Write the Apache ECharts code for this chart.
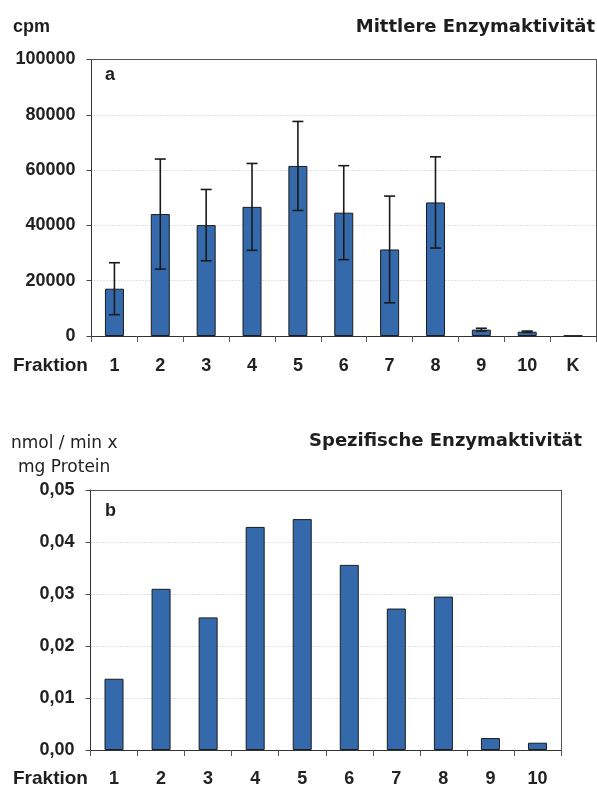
<!DOCTYPE html>
<html><head><meta charset="utf-8">
<script src="https://cdn.jsdelivr.net/npm/echarts@6/dist/echarts.min.js"></script>
<style>html,body{margin:0;padding:0;background:#fff}#c{width:597px;height:790px}</style>
</head><body><div id="c"></div>
<script>
// ---- data ----
const categoriesA = ['1','2','3','4','5','6','7','8','9','10','K'];
const meanActivity = [17100, 44100, 40100, 46700, 61500, 44600, 31300, 48300, 2300, 1550, 150];
const meanActivityErr = [9400, 19900, 12900, 15700, 16100, 17000, 19300, 16500, 500, 250, 0];
const categoriesB = ['1','2','3','4','5','6','7','8','9','10'];
const specActivity = [0.0137, 0.0310, 0.0255, 0.0429, 0.0444, 0.0356, 0.0272, 0.0295, 0.0023, 0.0014];
const yAxisA = {min: 0, max: 100000, interval: 20000};
const yAxisB = {min: 0, max: 0.05, interval: 0.01};

const LAB = '"Liberation Sans", Arial, sans-serif';
const TIT = '"DejaVu Sans", sans-serif';
const barColor = '#346aac';

const chart = echarts.init(document.getElementById('c'), null, {renderer: 'canvas'});

function yAxisCommon(gi, cfg, fmt) {
  return {
    type: 'value', gridIndex: gi, min: cfg.min, max: cfg.max, interval: cfg.interval,
    axisLine: {show: true, onZero: false, lineStyle: {color: '#333', width: 1}},
    axisTick: {show: true, length: 5, lineStyle: {color: '#444'}},
    axisLabel: {margin: 16, fontFamily: 'Liberation Sans', fontWeight: 'bold', fontSize: 18, color: '#222', formatter: fmt},
    splitLine: {show: true, lineStyle: {color: '#c4c4c4', type: [1, 2], width: 1}}
  };
}
function frameY(gi, cfg) {
  return {type: 'value', gridIndex: gi, position: 'right', min: cfg.min, max: cfg.max, interval: cfg.interval,
    axisLine: {show: true, onZero: false, lineStyle: {color: '#555', width: 1}}, axisTick: {show: false},
    axisLabel: {show: false}, splitLine: {show: false}};
}
function frameX(gi, cats) {
  return {type: 'category', gridIndex: gi, position: 'top', data: cats,
    axisLine: {show: true, onZero: false, lineStyle: {color: '#555', width: 1}}, axisTick: {show: false},
    axisLabel: {show: false}, splitLine: {show: false}};
}
function xAxisCommon(gi, cats, margin) {
  return {
    type: 'category', gridIndex: gi, data: cats,
    axisLine: {show: true, onZero: false, lineStyle: {color: '#333', width: 1}},
    axisTick: {show: true, length: 6, lineStyle: {color: '#555'}},
    axisLabel: {interval: 0, margin: margin, fontFamily: 'Liberation Sans', fontWeight: 'bold', fontSize: 18, color: '#222'}
  };
}

const errData = categoriesA.map((c, i) => [i, meanActivity[i] - meanActivityErr[i], meanActivity[i] + meanActivityErr[i]])
  .filter((d, i) => meanActivityErr[i] > 0);

function txt(text, x, y, font, align) {
  return {type: 'text', x: x, y: y, z: 10, style: {text: text, font: font, fill: '#1e1e1e', textAlign: align || 'left', textVerticalAlign: 'middle'}};
}

chart.setOption({
  animation: false,
  grid: [
    {left: 91.5, top: 59.5, right: 1, bottom: 454, containLabel: false},
    {left: 90.5, top: 490, right: 36, bottom: 40, containLabel: false}
  ],
  xAxis: [xAxisCommon(0, categoriesA, 21), xAxisCommon(1, categoriesB, 20), frameX(0, categoriesA), frameX(1, categoriesB)],
  yAxis: [
    yAxisCommon(0, yAxisA, v => String(Math.round(v))),
    yAxisCommon(1, yAxisB, v => v.toFixed(2).replace('.', ',')),
    frameY(0, yAxisA), frameY(1, yAxisB)
  ],
  series: [
    {type: 'bar', xAxisIndex: 0, yAxisIndex: 0, data: meanActivity, barWidth: 19,
     itemStyle: {color: barColor, borderColor: '#1c1c1c', borderWidth: 1}},
    {type: 'custom', xAxisIndex: 0, yAxisIndex: 0, data: errData, z: 5,
     renderItem: function (params, api) {
       const x = api.value(0);
       const pHi = api.coord([x, api.value(2)]);
       const pLo = api.coord([x, api.value(1)]);
       const w = 11;
       const st = {stroke: '#1a1a1a', lineWidth: 1.6};
       return {type: 'group', children: [
         {type: 'line', shape: {x1: pHi[0], y1: pHi[1], x2: pLo[0], y2: pLo[1]}, style: st},
         {type: 'line', shape: {x1: pHi[0] - w / 2, y1: pHi[1], x2: pHi[0] + w / 2, y2: pHi[1]}, style: st},
         {type: 'line', shape: {x1: pLo[0] - w / 2, y1: pLo[1], x2: pLo[0] + w / 2, y2: pLo[1]}, style: st}
       ]};
     }},
    {type: 'bar', xAxisIndex: 1, yAxisIndex: 1, data: specActivity, barWidth: 19,
     itemStyle: {color: barColor, borderColor: '#1c1c1c', borderWidth: 1}}
  ],
  graphic: [
    txt('cpm', 13, 27, 'bold 18px ' + LAB),
    txt('Mittlere Enzymaktivität', 595, 27, 'bold 18px ' + TIT, 'right'),
    txt('a', 105, 75, 'bold 18px ' + LAB),
    txt('Fraktion', 13, 366, 'bold 19px ' + LAB),
    txt('nmol / min x', 11, 444, '17px ' + TIT),
    txt('mg Protein', 18, 468, '17px ' + TIT),
    txt('Spezifische Enzymaktivität', 582, 441, 'bold 18px ' + TIT, 'right'),
    txt('b', 105, 511, 'bold 18px ' + LAB),
    txt('Fraktion', 13, 779, 'bold 19px ' + LAB)
  ]
});
</script></body></html>
